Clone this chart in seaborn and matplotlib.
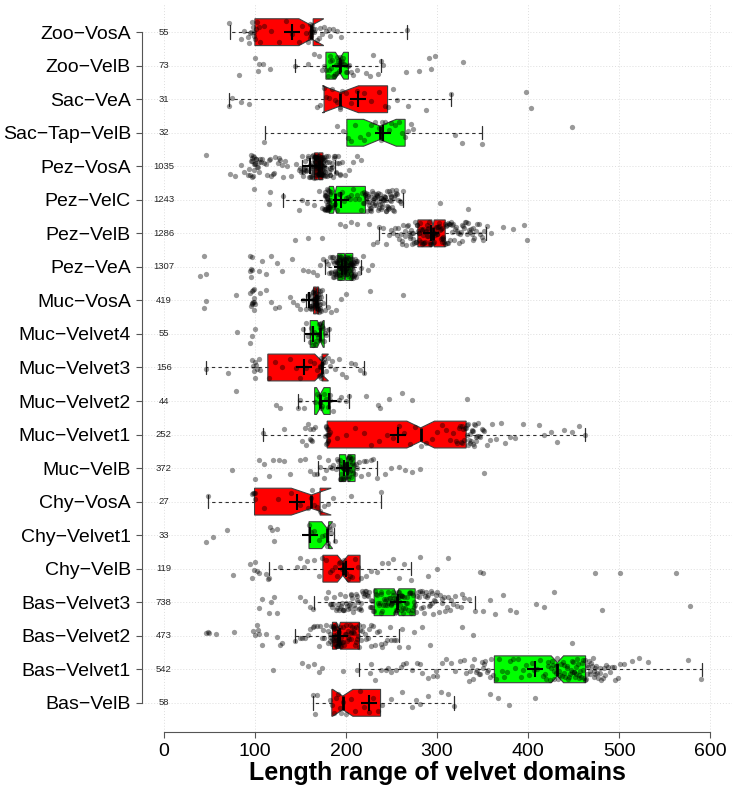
import numpy as np
import pandas as pd
import matplotlib
matplotlib.use("Agg")
import matplotlib.pyplot as plt
import seaborn as sns

sns.set_theme(style="white")
plt.rcParams["font.family"] = ["Liberation Sans", "DejaVu Sans"]
RED, GREEN = "#FF0000", "#00FF00"

# groups, top to bottom
groups = ["Zoo-VosA", "Zoo-VelB", "Sac-VeA", "Sac-Tap-VelB", "Pez-VosA", "Pez-VelC",
          "Pez-VelB", "Pez-VeA", "Muc-VosA", "Muc-Velvet4", "Muc-Velvet3", "Muc-Velvet2",
          "Muc-Velvet1", "Muc-VelB", "Chy-VosA", "Chy-Velvet1", "Chy-VelB", "Bas-Velvet3",
          "Bas-Velvet2", "Bas-Velvet1", "Bas-VelB"]
counts = [55, 73, 31, 32, 1035, 1243, 1286, 1307, 419, 55, 156, 44, 252, 372, 27, 33,
          119, 738, 473, 542, 58]

# box statistics
whis_lo = [73, 144, 72, 111, 152, 131, 236, 177, 156, 154, 46, 147, 109, 169, 48, 159,
           115, 165, 144, 214, 164]
q1 = [100, 178, 176, 201, 165.5, 181.6, 279, 191, 164.5, 160.8, 114.2, 165.6, 179.4,
      192.9, 99.6, 159.4, 174.7, 231, 185.2, 363, 184.5]
med = [162, 193, 194, 237.3, 170, 188, 295.6, 199, 167.4, 171.8, 173.2, 171.8, 282.1,
       201, 161.9, 179.4, 196.5, 255.6, 191.8, 432.2, 196.5]
q3 = [164, 202.7, 245.7, 265, 174.7, 221.3, 309, 207.5, 170, 176.1, 173.8, 182.7, 332,
      210, 171.6, 181, 215.5, 276, 214.8, 463.2, 238]
whis_hi = [267, 239, 315, 349, 188, 263, 354, 217, 178, 181, 220, 203, 462, 234, 239,
           187, 271, 342, 258, 591, 319]
means = [141, 193, 213, 241, 160, 195, 293, 196, 159.4, 163.8, 154.3, 180.9, 257.7, 198,
         146.6, 160.1, 200.2, 257, 193, 407.8, 225.7]

# individual domain lengths (approximate reading of the jittered dots)
pts_zoo_vosa = [72, 85, 88, 92, 94, 95, 96, 97, 98, 99, 99, 100, 101, 102, 104, 106, 110,
                118, 127, 134, 141, 148, 152, 156, 158, 160, 161, 161, 162, 162, 163, 163,
                164, 165, 166, 168, 170, 172, 174, 176, 178, 181, 183, 186, 190, 195, 267]
pts_zoo_velb = [82, 100, 103, 105, 109, 117, 144, 158, 165, 170, 174, 176, 178, 180, 181,
                182, 183, 184, 185, 186, 187, 188, 189, 190, 190, 191, 192, 192, 193, 193,
                194, 195, 196, 197, 198, 199, 200, 201, 202, 203, 205, 208, 212, 222, 226,
                230, 235, 239, 241, 266, 280, 291, 293, 298, 329]
pts_sac_vea = [72, 75, 85, 93, 168, 172, 176, 178, 181, 185, 188, 190, 193, 194, 196, 200,
               205, 212, 220, 228, 236, 243, 246, 252, 256, 268, 288, 315, 398, 403]
pts_sac_tap_velb = [110, 190, 197, 202, 205, 210, 215, 220, 224, 228, 232, 236, 238, 240,
                    243, 247, 250, 254, 258, 262, 265, 268, 271, 274, 320, 327, 349, 448]
pts_pez_vosa = [46, 73, 78, 85, 88, 92, 94, 95, 96, 96, 97, 97, 98, 98, 99, 99, 100, 100,
                101, 102, 103, 104, 105, 106, 108, 110, 112, 115, 118, 120, 122, 125, 128,
                130, 133, 135, 140, 145, 148, 150, 151, 152, 153, 153, 154, 155, 155, 156,
                157, 158, 159, 160, 161, 162, 163, 163, 164, 164, 165, 165, 166, 166, 167,
                167, 167, 168, 168, 168, 169, 169, 169, 170, 170, 170, 170, 171, 171, 171,
                172, 172, 172, 173, 173, 173, 174, 174, 175, 175, 176, 176, 177, 178, 178,
                179, 180, 181, 182, 183, 184, 185, 186, 187, 188, 189, 190, 192, 194, 196,
                199, 203, 208, 212, 217,
                96.5, 98.5, 101.5, 107, 113, 117, 121, 126, 131, 155.5, 158.5, 161.5,
                162.5, 163.5, 164.5, 165.5, 166.5, 167.5, 168.5, 169.5, 170.5, 171.5,
                172.5, 173.5, 174.5, 175.5, 176.5, 177.5, 163.2, 164.2, 165.2, 166.2,
                167.2, 168.2, 169.2, 170.2, 171.2, 172.2, 173.2, 174.2, 175.2, 176.2,
                164.8, 165.8, 166.8, 167.8, 168.8, 169.8, 170.8, 171.8, 172.8, 173.8,
                174.8, 175.8, 177, 179, 181, 183, 185, 187, 189, 191, 193]
pts_pez_velc = [99, 115, 117, 131, 148, 152, 157, 165, 170, 174, 176, 177, 178, 178, 179,
                179, 180, 180, 180, 181, 181, 182, 182, 183, 184, 185, 186, 188, 190, 192,
                194, 196, 198, 200, 202, 204, 206, 208, 210, 212, 214, 216, 218, 219, 220,
                221, 222, 223, 224, 225, 226, 227, 228, 229, 230, 231, 232, 233, 234, 235,
                236, 237, 238, 239, 240, 241, 242, 243, 244, 245, 246, 247, 248, 249, 250,
                251, 252, 253, 254, 255, 257, 259, 261, 263, 303, 334,
                176.5, 177.5, 178.5, 179.5, 180.5, 181.5, 177.2, 178.2, 179.2, 180.2,
                181.2, 176.8, 178.8, 179.8, 180.8, 219.5, 220.5, 221.5, 222.5, 223.5,
                224.5, 225.5, 226.5, 227.5, 228.5, 229.5, 230.5, 231.5, 232.5, 233.5,
                234.5, 235.5, 236.5, 237.5, 238.5, 239.5, 240.5, 241.5, 242.5, 243.5,
                244.5, 245.5, 246.5, 247.5, 248.5, 249.5, 250.5, 252.5, 254.5, 256]
pts_pez_velb = [144, 158, 174, 194, 199, 205, 212, 225, 230, 234, 236, 241, 244, 247, 250,
                252, 254, 256, 258, 260, 262, 263, 265, 266, 268, 269, 270, 271, 272, 273,
                274, 275, 276, 277, 278, 279, 280, 280, 281, 282, 283, 284, 285, 285, 286,
                287, 288, 289, 290, 290, 291, 292, 293, 294, 295, 295, 296, 297, 298, 299,
                300, 300, 301, 302, 303, 304, 305, 305, 306, 307, 308, 309, 310, 311, 312,
                313, 314, 315, 316, 318, 320, 322, 324, 326, 328, 330, 332, 334, 336, 338,
                340, 343, 346, 349, 352, 355, 359, 372, 383, 396, 399,
                257.5, 261.5, 264.5, 267.5, 270.5, 273.5, 276.5, 278.5, 280.5, 282.5,
                284.5, 286.5, 288.5, 290.5, 292.5, 294.5, 296.5, 298.5, 300.5, 302.5,
                304.5, 306.5, 308.5, 310.5, 312.5, 314.5, 317, 319, 321, 323, 325, 327,
                329, 331, 333, 335, 337, 339, 341, 344, 347, 350]
pts_pez_vea = [40, 44, 46, 95, 95, 96, 96, 97, 97, 104, 108, 112, 118, 124, 130, 141, 153,
               158, 164, 168, 172, 175, 178, 180, 182, 184, 185, 186, 187, 188, 189, 190,
               190, 191, 191, 192, 192, 193, 193, 194, 194, 195, 195, 196, 196, 197, 197,
               198, 198, 199, 199, 200, 200, 201, 201, 202, 202, 203, 203, 204, 204, 205,
               205, 206, 206, 207, 207, 208, 208, 209, 210, 211, 212, 214, 217, 219, 224, 229,
               181.5, 183.5, 185.5, 187.5, 189.5, 190.5, 191.5, 192.5, 193.5, 194.5, 195.5,
               196.5, 197.5, 198.5, 199.5, 200.5, 201.5, 202.5, 203.5, 204.5, 205.5, 206.5,
               207.5, 208.5, 209.5, 210.5, 211.5, 186.2, 188.2, 190.2, 192.2, 194.2, 196.2,
               198.2, 200.2, 202.2, 204.2, 206.2, 208.2, 187, 189, 191, 193, 195, 197, 199,
               201, 203, 205, 207, 209]
pts_muc_vosa = [44, 46, 79, 95, 96, 97, 97, 98, 98, 99, 99, 100, 106, 112, 118, 122, 126,
                139, 142, 146, 150, 153, 156, 158, 159, 160, 161, 162, 163, 164, 164, 165,
                165, 166, 166, 167, 167, 167, 168, 168, 168, 169, 169, 170, 170, 171, 171,
                172, 173, 174, 175, 177, 180, 184, 189, 195, 200, 226, 263,
                96.5, 98.5, 99.5, 160.5, 161.5, 162.5, 163.5, 164.5, 165.5, 166.5, 167.5,
                168.5, 169.5, 170.5, 171.5, 172.5, 163.2, 165.2, 167.2, 169.2, 171.2,
                164.8, 166.8, 168.8]
pts_muc_velvet4 = [80, 95, 97, 100, 153, 156, 158, 160, 162, 163, 164, 165, 166, 167, 168,
                   169, 170, 170, 171, 172, 172, 173, 174, 175, 176, 177, 178, 179, 181]
pts_muc_velvet3 = [46, 70, 97, 98, 99, 100, 100, 101, 102, 104, 106, 116, 122, 130, 138,
                   145, 150, 156, 160, 165, 168, 170, 171, 172, 172, 173, 173, 173, 174,
                   174, 175, 176, 177, 178, 180, 182, 185, 188, 192, 196, 200, 205, 210,
                   215, 220]
pts_muc_velvet2 = [79, 123, 128, 147, 150, 154, 166, 168, 170, 171, 172, 173, 174, 176, 178,
                   180, 182, 183, 186, 192, 195, 200, 203, 222, 235, 237, 247, 262, 272, 333]
pts_muc_velvet1 = [109, 132, 152, 155, 158, 160, 162, 164, 166, 177, 178, 179, 179, 180,
                   180, 181, 182, 190, 200, 210, 220, 228, 236, 245, 252, 258, 264, 270,
                   276, 282, 288, 294, 300, 305, 310, 314, 318, 321, 324, 326, 328, 330,
                   331, 332, 333, 334, 335, 336, 337, 338, 339, 340, 341, 342, 343, 344,
                   345, 347, 350, 352, 355, 358, 360, 365, 370, 375, 380, 386, 394, 412,
                   418, 425, 432, 440, 448, 456, 462,
                   156, 161, 163, 178.5, 179.5, 180.5, 178.2, 179.8, 322, 325, 327, 329,
                   332.5, 334.5, 336.5, 338.5, 340.5, 342.5, 346, 349]
pts_muc_velb = [75, 100, 104, 110, 115, 120, 126, 132, 139, 150, 155, 160, 165, 168, 172,
                176, 180, 183, 186, 189, 191, 193, 195, 196, 197, 198, 199, 200, 201, 202,
                203, 204, 205, 206, 207, 208, 210, 212, 214, 217, 220, 224, 228, 234, 243,
                250, 258, 265, 272, 281, 352,
                190.5, 192.5, 194.5, 195.5, 196.5, 197.5, 198.5, 199.5, 200.5, 201.5,
                202.5, 203.5, 204.5, 205.5, 206.5, 208.5, 210.5, 194, 196.2, 198.2,
                200.2, 202.2, 204.2, 206.2, 185, 178, 170, 222, 230]
pts_chy_vosa = [48, 97, 98, 99, 100, 100, 110, 125, 140, 150, 158, 162, 163, 165, 168, 172,
                176, 180, 186, 206, 239]
pts_chy_velvet1 = [46, 54, 69, 117, 119, 121, 124, 159, 162, 165, 170, 174, 177, 179, 180,
                   181, 182, 184, 186, 188]
pts_chy_velb = [76, 95, 97, 99, 100, 102, 104, 112, 114, 115, 128, 146, 150, 154, 157, 165,
                170, 174, 178, 182, 185, 188, 190, 192, 194, 196, 198, 200, 202, 204, 207,
                210, 213, 216, 222, 228, 234, 240, 246, 252, 258, 264, 271, 281, 290, 300,
                312, 347, 350, 473, 501, 562]
pts_bas_velvet3 = [104, 108, 115, 118, 121, 124, 150, 155, 160, 164, 178, 180, 182, 184,
                   185, 187, 189, 190, 192, 193, 195, 196, 198, 199, 201, 202, 204, 205,
                   207, 208, 210, 211, 213, 214, 216, 217, 219, 220, 222, 223, 225, 226,
                   228, 229, 231, 233, 234, 236, 237, 239, 240, 241, 243, 244, 245, 246,
                   248, 249, 250, 251, 252, 253, 254, 255, 256, 257, 258, 259, 260, 261,
                   262, 264, 265, 266, 268, 269, 270, 272, 273, 275, 276, 278, 280, 282,
                   284, 286, 288, 290, 292, 294, 296, 298, 300, 303, 306, 309, 312, 315,
                   318, 322, 326, 330, 335, 342, 351, 358, 364, 372, 380, 387, 409, 418,
                   429, 481, 578,
                   186, 191, 194, 197, 200, 203, 206, 209, 212, 215, 218, 221, 224, 227,
                   230, 232, 235, 238, 242, 247, 251.5, 253.5, 255.5, 257.5, 259.5, 261.5,
                   263, 267, 271, 274, 277, 279, 281, 283, 285, 287, 289, 291, 293, 295,
                   297, 299, 302, 305, 308, 311, 314, 320, 328, 238.5, 242.5, 246.5,
                   250.5, 254.5, 258.5, 262.5, 266.5, 270.5, 274.5, 196.5, 204.5, 212.5,
                   220.5, 228.5]
pts_bas_velvet2 = [46, 48, 50, 57, 77, 98, 100, 102, 103, 105, 108, 112, 124, 128, 130, 144,
                   150, 155, 160, 164, 168, 171, 174, 176, 178, 180, 182, 183, 184, 185,
                   186, 187, 187, 188, 188, 189, 189, 190, 190, 191, 191, 192, 192, 193,
                   194, 195, 196, 197, 198, 199, 200, 201, 202, 203, 204, 205, 206, 207,
                   208, 209, 210, 211, 212, 213, 214, 215, 217, 219, 222, 225, 228, 232,
                   236, 240, 245, 250, 255, 258, 262, 268, 275, 283, 292, 328, 339, 448,
                   180.5, 182.5, 184.5, 185.5, 186.5, 187.5, 188.5, 189.5, 190.5, 191.5,
                   192.5, 193.5, 194.5, 186.2, 188.2, 190.2, 192.2, 196.5, 199.5, 202.5,
                   205.5, 208.5, 211.5, 214.5, 218, 221, 224, 227, 230, 234, 238, 243,
                   248, 253, 165, 170, 175, 152, 158]
pts_bas_velvet1 = [120, 152, 158, 165, 170, 174, 197, 212, 226, 232, 238, 244, 250, 255,
                   260, 266, 272, 278, 284, 290, 296, 300, 305, 310, 315, 320, 325, 330,
                   335, 338, 341, 344, 347, 350, 353, 356, 359, 362, 365, 368, 371, 374,
                   377, 380, 383, 386, 389, 392, 395, 398, 401, 404, 407, 410, 413, 416,
                   419, 422, 425, 427, 429, 431, 433, 435, 437, 439, 441, 443, 445, 446,
                   447, 449, 450, 451, 453, 454, 455, 457, 458, 459, 461, 462, 463, 465,
                   466, 467, 469, 470, 471, 473, 474, 475, 477, 480, 483, 486, 490, 494,
                   499, 505, 514, 522, 532, 576, 590,
                   332, 336, 340, 343, 346, 349, 352, 355, 358, 228, 246, 263, 281, 299,
                   420, 424, 428, 432, 436, 440, 444, 448, 452, 456, 460, 464, 468, 472,
                   476, 479, 482, 485, 488, 492, 496, 501, 421.5, 426.5, 430.5, 434.5,
                   438.5, 442.5, 448.5, 452.5, 456.5, 460.5, 464.5, 468.5, 472.5, 478.5]
pts_bas_velb = [164, 166, 168, 183, 185, 187, 189, 191, 193, 195, 197, 200, 205, 210, 215,
                220, 225, 230, 235, 240, 250, 262, 273, 277, 281, 290, 304, 312, 319, 358,
                367, 379, 408]

points = [pts_zoo_vosa, pts_zoo_velb, pts_sac_vea, pts_sac_tap_velb, pts_pez_vosa,
          pts_pez_velc, pts_pez_velb, pts_pez_vea, pts_muc_vosa, pts_muc_velvet4,
          pts_muc_velvet3, pts_muc_velvet2, pts_muc_velvet1, pts_muc_velb, pts_chy_vosa,
          pts_chy_velvet1, pts_chy_velb, pts_bas_velvet3, pts_bas_velvet2, pts_bas_velvet1,
          pts_bas_velb]

df = pd.DataFrame({"group": np.repeat(groups, [len(p) for p in points]),
                   "length": np.concatenate(points)})

fig = plt.figure(figsize=(7.32, 7.91), dpi=100)
ax = fig.add_axes([0.194, 0.0746, 0.806, 0.9216])
pos = np.arange(len(groups))

# notched boxes (R style: notch = median +/- 1.58 IQR / sqrt(n))
stats = []
for i in range(len(groups)):
    half = 1.58 * (q3[i] - q1[i]) / np.sqrt(counts[i])
    stats.append(dict(med=med[i], q1=q1[i], q3=q3[i], whislo=whis_lo[i], whishi=whis_hi[i],
                      cilo=med[i] - half, cihi=med[i] + half, fliers=[]))
bp = ax.bxp(stats, positions=pos, widths=0.8, orientation="horizontal", shownotches=True,
            patch_artist=True, showfliers=False, manage_ticks=False, zorder=2,
            boxprops=dict(edgecolor="#404040", linewidth=0.8),
            whiskerprops=dict(color="#303030", linewidth=0.8, linestyle=(0, (3, 3))),
            capprops=dict(color="#303030", linewidth=0.9),
            medianprops=dict(color="black", linewidth=2))
for i, patch in enumerate(bp["boxes"]):
    patch.set_facecolor(RED if i % 2 == 0 else GREEN)

np.random.seed(7)
sns.stripplot(data=df, x="length", y="group", order=groups, jitter=0.34, color="black",
              alpha=0.4, size=3.8, linewidth=0, ax=ax, zorder=3)

ax.scatter(means, pos, marker="+", s=120, color="black", linewidths=1.5, zorder=5)
for i in pos:
    ax.text(0, i, str(counts[i]), ha="center", va="center", fontsize=6.8, zorder=6)

ax.set_xlim(-24, 624)
ax.set_ylim(20.87, -0.87)
ax.set_yticks(pos)
ax.set_yticklabels([g.replace("-", "\u2212") for g in groups], fontsize=14)
ax.set_xticks(range(0, 601, 100))
ax.set_xticklabels([str(v) for v in range(0, 601, 100)], fontsize=14)
ax.tick_params(axis="both", length=4, width=0.8, color="#555555", pad=4, labelcolor="black")
ax.tick_params(axis="y", left=True)
ax.tick_params(axis="x", bottom=True)
ax.set_ylabel("")
ax.set_xlabel("Length range of velvet domains", fontsize=18, fontweight="bold",
              labelpad=1, color="black")

ax.grid(True, linestyle=(0, (1, 2)), color="#dedede", linewidth=0.7)
ax.set_axisbelow(True)
for s in ["top", "right"]:
    ax.spines[s].set_visible(False)
ax.spines["left"].set_bounds(0, 20)
ax.spines["bottom"].set_bounds(0, 600)
for s in ["left", "bottom"]:
    ax.spines[s].set_color("#555555")
    ax.spines[s].set_linewidth(0.8)

fig.savefig("out.png", dpi=100)
